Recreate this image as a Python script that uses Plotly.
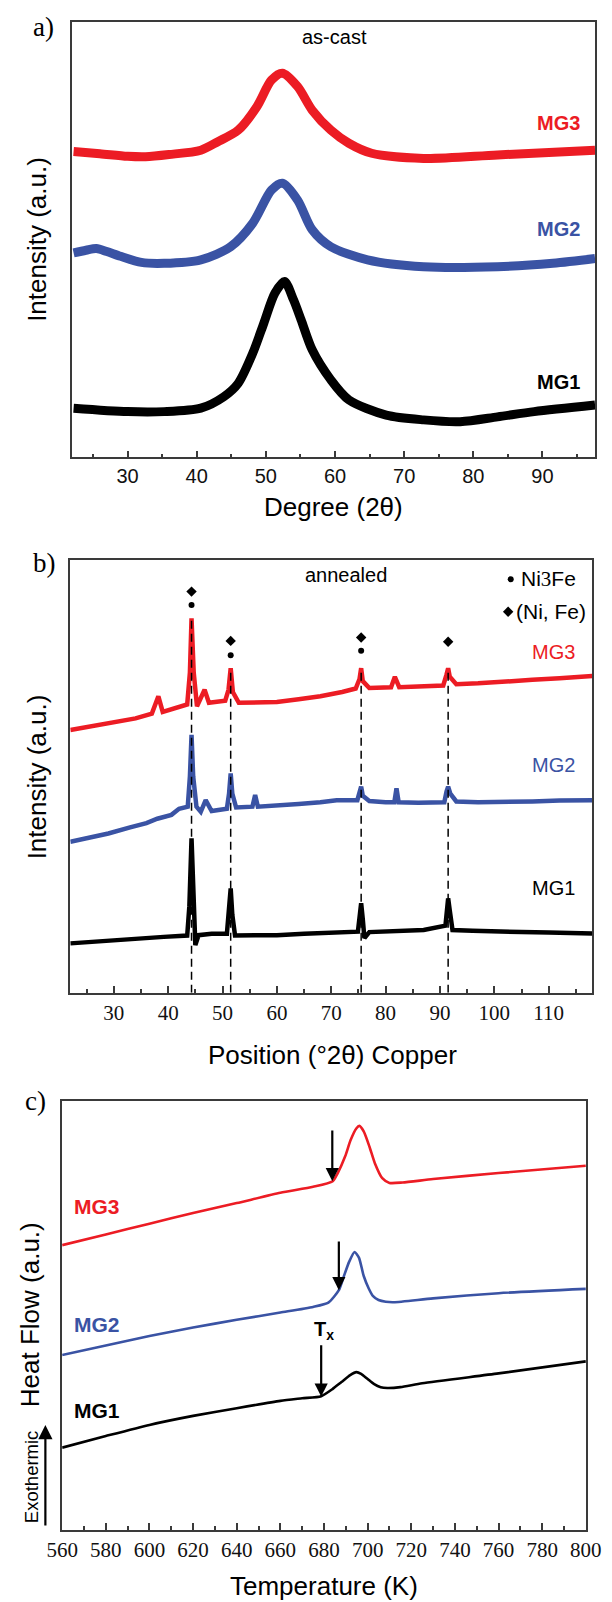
import plotly.graph_objects as go

# ---------------- data ----------------
# Panel a : as-cast XRD, Degree (2theta) vs intensity (a.u.)
a_mg3_x = [22.2, 26, 30, 32.6, 36, 40.6, 43, 46.0, 48.7, 50.8, 52.4, 54.6, 56.7, 59.4, 62.0, 65.3, 72.8, 83.5, 97.6]
a_mg3_y = [70.3, 69.8, 69.2, 69.1, 69.6, 70.6, 72.5, 75.2, 80.6, 86.7, 88.3, 85.2, 79.8, 75.2, 72.2, 69.9, 68.7, 69.5, 70.6]
a_mg2_x = [22.2, 24, 25.5, 27, 29, 32, 35.3, 40.6, 44.9, 48.1, 50.8, 52.4, 54.6, 56.7, 59.4, 64.7, 72.8, 83.5, 91.5, 97.6]
a_mg2_y = [47.0, 47.6, 48.0, 47.3, 46.2, 44.8, 44.6, 45.4, 48.4, 53.8, 61.4, 63.0, 59.1, 52.3, 48.4, 45.4, 43.8, 43.8, 44.6, 45.7]
a_mg1_x = [22.2, 30, 35.3, 40.6, 43.9, 46.0, 48.1, 49.7, 51.3, 52.7, 54.0, 55.1, 56.7, 59.4, 62.0, 67.4, 72.8, 78.1, 83.5, 88.8, 97.6]
a_mg1_y = [11.3, 10.5, 10.5, 11.3, 13.9, 17.0, 23.9, 30.8, 37.7, 40.4, 36.2, 31.6, 24.7, 17.8, 13.2, 9.7, 8.6, 8.2, 9.3, 10.5, 12.0]

# Panel b : annealed XRD, Position (deg 2theta) vs intensity (a.u.)
b_mg3_x = [22, 26, 30, 34, 37, 38.2, 39, 42, 43.5, 44.0, 44.3, 44.7, 45.3, 46.7, 47.5, 50.5, 51.1, 51.5, 51.9, 53, 56, 60,
           64, 68, 72, 74.5, 75.2, 75.5, 75.8, 77, 81, 81.7, 82.5, 86, 90.6, 91.2, 91.5, 91.8, 93, 97, 102, 107, 112, 116, 118]
b_mg3_y = [60.7, 61.6, 62.4, 63.4, 64.5, 68.5, 64.9, 65.9, 66.6, 74.0, 86.5, 74.0, 66.2, 70.0, 67.0, 67.5, 70.0, 75.0, 69.5, 67.0, 67.0, 67.2,
           67.8, 68.5, 69.5, 70.3, 72.5, 75.0, 72.0, 70.4, 70.6, 73.0, 70.6, 70.7, 71.0, 73.5, 75.0, 73.0, 71.3, 71.5, 72.0, 72.3, 72.7, 73.0, 73.2]
b_mg2_x = [22, 25, 29, 33, 36, 38, 40.6, 42, 43.6, 44.0, 44.3, 44.6, 45.2, 46, 46.9, 48, 50.8, 51.2, 51.5, 51.8, 52.5, 55.5, 56, 56.5,
           60, 64, 68, 71, 74.8, 75.2, 75.5, 75.8, 77, 80, 81.6, 82.0, 82.4, 86, 90.8, 91.2, 91.5, 91.9, 93, 97, 102, 107, 112, 118]
b_mg2_y = [34.9, 35.7, 36.8, 38.2, 39.2, 40.2, 41.1, 42.5, 43.0, 50.0, 59.6, 50.0, 43.0, 41.8, 44.5, 42.0, 42.5, 46.0, 50.7, 46.0, 42.8, 43.0, 45.7, 43.0,
           43.2, 43.6, 44.0, 44.5, 44.5, 46.0, 47.6, 45.5, 44.3, 44.0, 44.0, 47.2, 44.0, 43.9, 44.0, 46.5, 47.6, 46.0, 44.2, 44.0, 44.0, 44.2, 44.4, 44.5]
b_mg1_x = [22, 26, 30, 35, 39.2, 43.5, 43.9, 44.3, 44.7, 45.0, 45.6, 48, 50.8, 51.2, 51.5, 51.8, 52.3, 56, 60, 65, 70, 74.9, 75.3,
           75.5, 75.8, 76.1, 77, 80, 87, 91.0, 91.3, 91.5, 91.8, 92.3, 96, 100, 105, 110, 114, 118]
b_mg1_y = [11.4, 11.8, 12.2, 12.5, 12.9, 13.2, 20.0, 35.7, 20.0, 11.0, 13.3, 13.6, 13.6, 19.0, 24.1, 18.0, 13.2, 13.3, 13.3, 13.6, 13.9, 14.1, 18.5,
           20.7, 17.0, 12.6, 14.0, 14.2, 14.5, 15.5, 20.0, 21.8, 19.0, 14.5, 14.3, 14.1, 14.0, 13.9, 13.8, 13.7]
b_peaks = [44.3, 51.5, 75.5, 91.5]
b_dash_top = [86.5, 75.0, 75.0, 75.0]
b_ni3fe_x = [44.3, 51.5, 75.5]
b_ni3fe_y = [89.6, 78.0, 79.0]
b_nife_x = [44.3, 51.5, 75.5, 91.5]
b_nife_y = [92.7, 81.3, 82.1, 81.1]

# Panel c : DSC, Temperature (K) vs heat flow (a.u.)
c_mg3_x = [560, 580, 600, 620, 640, 660, 675, 684, 686.3, 689.7, 692.2, 694.8, 696.2, 698.2, 700.8, 703.3, 706.7, 710, 716, 730, 760, 800]
c_mg3_y = [66.4, 68.9, 71.4, 73.9, 76.2, 78.6, 80.0, 81.3, 83.2, 87.1, 90.9, 93.6, 94.2, 92.9, 89.4, 85.5, 82.0, 80.9, 81.0, 81.8, 83.2, 84.9]
c_mg2_x = [560, 580, 600, 620, 640, 660, 675, 682, 686.8, 689, 691.5, 694, 696, 698.2, 700.5, 702.5, 705, 708.3, 712, 730, 760, 800]
c_mg2_y = [40.8, 43.0, 45.2, 47.2, 49.0, 50.7, 52.0, 53.0, 55.9, 59.0, 62.5, 64.8, 63.5, 59.2, 56.3, 54.5, 53.6, 53.2, 53.1, 54.0, 55.2, 56.2]
c_mg1_x = [560, 580, 600, 620, 640, 660, 670, 678.7, 684, 688, 692, 694.8, 697, 700, 703, 706, 709, 715, 725, 760, 800]
c_mg1_y = [19.2, 21.9, 24.5, 26.6, 28.4, 30.1, 30.7, 31.2, 32.9, 34.5, 36.1, 36.8, 36.4, 35.2, 34.0, 33.3, 33.1, 33.3, 34.2, 36.5, 39.3]
c_tx_K = [683.8, 686.8, 678.7]
c_tx_tail = [93.5, 67.6, 43.4]
c_tx_tip = [81.3, 55.9, 31.1]

# ---------------- styling ----------------
W, H = 612, 1602
RED = '#ec1c24'
BLUE = '#3a53a4'
BLACK = '#000000'
AXC = '#3a3a3a'
SANS = 'Liberation Sans, Arial, sans-serif'
SERIF = 'Liberation Serif, Times New Roman, serif'


def px(x):
    return x / W


def py(y):
    return 1 - y / H


fig = go.Figure()

# Panel a
for xs, ys, c in [(a_mg3_x, a_mg3_y, RED), (a_mg2_x, a_mg2_y, BLUE), (a_mg1_x, a_mg1_y, BLACK)]:
    fig.add_trace(go.Scatter(x=xs, y=ys, mode='lines', xaxis='x', yaxis='y', showlegend=False,
                             line=dict(color=c, width=9, shape='spline', smoothing=0.8)))

# Panel b
for xs, ys, c in [(b_mg3_x, b_mg3_y, RED), (b_mg2_x, b_mg2_y, BLUE), (b_mg1_x, b_mg1_y, BLACK)]:
    fig.add_trace(go.Scatter(x=xs, y=ys, mode='lines', xaxis='x2', yaxis='y2', showlegend=False,
                             line=dict(color=c, width=4.5)))
for p, top in zip(b_peaks, b_dash_top):
    fig.add_trace(go.Scatter(x=[p, p], y=[0, top], mode='lines', xaxis='x2', yaxis='y2', showlegend=False,
                             line=dict(color=BLACK, width=1.5, dash='8px,5px')))
fig.add_trace(go.Scatter(x=b_ni3fe_x, y=b_ni3fe_y, mode='markers', xaxis='x2', yaxis='y2', showlegend=False,
                         marker=dict(symbol='circle', size=6, color=BLACK)))
fig.add_trace(go.Scatter(x=b_nife_x, y=b_nife_y, mode='markers', xaxis='x2', yaxis='y2', showlegend=False,
                         marker=dict(symbol='diamond', size=8, color=BLACK)))
# legend symbols (placed from pixel positions)
bx0, bx1, by0, by1 = 57.3, 608.0, 992.7, 560.0


def bdx(x):
    return 22 + (x - bx0) / (bx1 - bx0) * 96


def bdy(y):
    return (by0 - y) / (by0 - by1) * 100


fig.add_trace(go.Scatter(x=[bdx(522)], y=[bdy(579.3)], mode='markers', xaxis='x2', yaxis='y2', showlegend=False,
                         marker=dict(symbol='circle', size=6, color=BLACK)))
fig.add_trace(go.Scatter(x=[bdx(519.3)], y=[bdy(611.7)], mode='markers', xaxis='x2', yaxis='y2', showlegend=False,
                         marker=dict(symbol='diamond', size=8, color=BLACK)))

# Panel c
for xs, ys, c in [(c_mg3_x, c_mg3_y, RED), (c_mg2_x, c_mg2_y, BLUE), (c_mg1_x, c_mg1_y, BLACK)]:
    fig.add_trace(go.Scatter(x=xs, y=ys, mode='lines', xaxis='x3', yaxis='y3', showlegend=False,
                             line=dict(color=c, width=2.6, shape='spline', smoothing=0.6)))


def xax(domain, anchor, rng, dtick, mdtick, font):
    return dict(domain=domain, anchor=anchor, range=rng, showline=True, linecolor=AXC, linewidth=1.5,
                mirror=True, ticks='inside', ticklen=7, tickwidth=1.5, tickcolor=AXC, dtick=dtick, tick0=0,
                minor=dict(ticks='inside', ticklen=4, tickwidth=1.5, tickcolor=AXC, dtick=mdtick, tick0=0),
                showgrid=False, zeroline=False, tickfont=font, ticklabeloverflow='allow')


def yax(domain, anchor):
    return dict(domain=domain, anchor=anchor, range=[0, 100], showline=True, linecolor=AXC, linewidth=1.5,
                mirror=True, ticks='', showticklabels=False, showgrid=False, zeroline=False)


fig.update_layout(
    width=W, height=H, margin=dict(l=0, r=0, t=0, b=0),
    paper_bgcolor='white', plot_bgcolor='white', showlegend=False,
    xaxis=xax([px(59.3), px(611)], 'y', [22, 97.6], 10, 5, dict(family=SANS, size=20, color='#111')),
    yaxis=yax([py(457.3), py(22.3)], 'x'),
    xaxis2=xax([px(57.3), px(608)], 'y2', [22, 118], 10, 5, dict(family=SERIF, size=21, color='#111')),
    yaxis2=yax([py(992.7), py(560)], 'x2'),
    xaxis3=xax([px(48.7), px(601.3)], 'y3', [560, 800.001], 20, 10, dict(family=SERIF, size=21, color='#111')),
    yaxis3=yax([py(1530), py(1101)], 'x3'),
)

ann = []


def txt(t, x, y, size, family=SANS, color=BLACK, xanchor='center', angle=0):
    ann.append(dict(text=t, x=px(x), y=py(y), xref='paper', yref='paper', showarrow=False,
                    xanchor=xanchor, yanchor='middle', textangle=angle,
                    font=dict(family=family, size=size, color=color)))


# panel a texts
txt('a)', 29, 27, 27, SERIF)
txt('as-cast', 335.7, 37.3, 20)
txt('Intensity (a.u.)', 22, 239, 26, angle=-90)
txt('Degree (2θ)', 335, 506.7, 26)
txt('<b>MG3</b>', 597, 122.5, 20, color=RED, xanchor='right')
txt('<b>MG2</b>', 597, 229, 20, color=BLUE, xanchor='right')
txt('<b>MG1</b>', 597, 381.7, 20, color=BLACK, xanchor='right')

# panel b texts
txt('b)', 30, 562.5, 27, SERIF)
txt('annealed', 348, 575, 20)
txt('Ni<span style="font-family:Liberation Serif">3</span>Fe', 531, 579.3, 21, xanchor='left')
txt('(Ni, Fe)', 526, 611.7, 21, xanchor='left')
txt('MG3', 592, 651.7, 20, color=RED, xanchor='right')
txt('MG2', 592, 765, 20, color=BLUE, xanchor='right')
txt('MG1', 592, 888.3, 20, color=BLACK, xanchor='right')
txt('Intensity (a.u.)', 22, 776.5, 26, angle=-90)
txt('Position (°2θ) Copper', 333.7, 1055, 26)

# panel c texts
txt('c)', 20.5, 1100.5, 27, SERIF)
txt('<b>MG3</b>', 59, 1206.7, 21, color=RED, xanchor='left')
txt('<b>MG2</b>', 59, 1324, 21, color=BLUE, xanchor='left')
txt('<b>MG1</b>', 59, 1410, 21, color=BLACK, xanchor='left')
txt('Heat Flow (a.u.)', 15, 1315, 26, angle=-90)
txt('Exothermic', 16, 1477, 18.5, angle=-90)
txt('Temperature (K)', 325, 1586, 26)

# Exothermic arrow
ann.append(dict(text='', x=px(31), y=py(1425), xref='paper', yref='paper', ax=0, ay=102, axref='pixel', ayref='pixel',
                showarrow=True, arrowhead=2, arrowsize=1.3, arrowwidth=2.2, arrowcolor=BLACK))

# Tx arrows
for k, t0, t1 in zip(c_tx_K, c_tx_tail, c_tx_tip):
    ann.append(dict(text='', x=k, y=t1, ax=k, ay=t0, xref='x3', yref='y3', axref='x3', ayref='y3',
                    showarrow=True, arrowhead=2, arrowsize=1.2, arrowwidth=2.2, arrowcolor=BLACK))
ann.append(dict(text='<b>T<sub>x</sub></b>', x=c_tx_K[2] + 1.5, y=46.6, xref='x3', yref='y3', showarrow=False,
                xanchor='center', yanchor='middle', font=dict(family=SANS, size=20, color=BLACK)))

fig.update_layout(annotations=ann)
fig.write_html('out.html')
